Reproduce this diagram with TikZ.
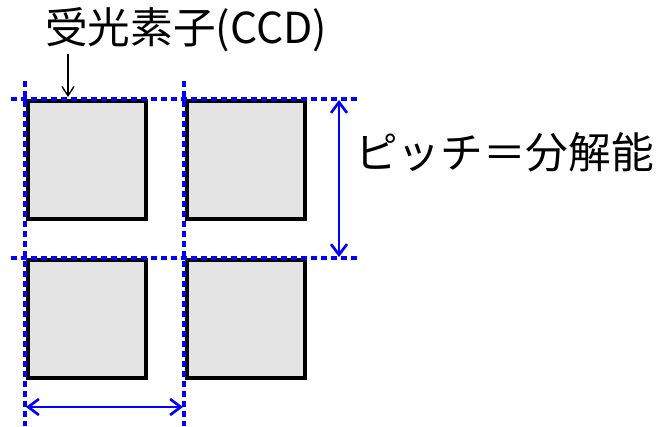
\documentclass[tikz,border=0pt]{standalone}
\usepackage{fontspec}
\newfontfamily\jpfont{Noto Sans CJK JP}
\usetikzlibrary{arrows.meta}
\definecolor{cellgray}{RGB}{228,228,228}
\definecolor{pureblue}{RGB}{0,0,255}
\tikzset{
  cell/.style={draw=black, fill=cellgray, line width=3pt, minimum width=118*0.75pt, minimum height=118*0.75pt, inner sep=0pt, outer sep=0pt},
  gridline/.style={draw=pureblue, line width=2.8pt, dash pattern=on 4.5pt off 3pt},
  pitcharrow/.style={draw=pureblue, line width=2pt, {Straight Barb[length=8pt,width=12pt,line width=2pt]}-{Straight Barb[length=8pt,width=12pt,line width=2pt]}},
  label/.style={font=\jpfont\fontsize{32pt}{35pt}\selectfont, inner sep=0pt}
}
\begin{document}
\begin{tikzpicture}[x=0.75pt,y=-0.75pt]
\useasboundingbox (0,0) rectangle (659,426);
\fill[white] (0,0) rectangle (659,426);
% cells
\node[cell] (c11) at (87,160) {};
\node[cell] (c12) at (246,160) {};
\node[cell] (c21) at (87,319) {};
\node[cell] (c22) at (246,319) {};
% grid line end points
\coordinate (h1a) at (11,99);  \coordinate (h1b) at (358,99);
\coordinate (h2a) at (11,258); \coordinate (h2b) at (358,258);
\coordinate (v1a) at (25,81);  \coordinate (v1b) at (25,426);
\coordinate (v2a) at (184,81); \coordinate (v2b) at (184,426);
\draw[gridline] (h1a) -- (h1b);
\draw[gridline] (h2a) -- (h2b);
\draw[gridline] (v1a) -- (v1b);
\draw[gridline] (v2a) -- (v2b);
% pitch arrows
\coordinate (pv1) at (339,100); \coordinate (pv2) at (339,257);
\coordinate (ph1) at (26,407);  \coordinate (ph2) at (183,407);
\draw[pitcharrow] (pv1) -- (pv2);
\draw[pitcharrow] (ph1) -- (ph2);
% labels
\node[label, anchor=west] (title) at (45,30) {受光素子(CCD)};
\node[label, anchor=west] (pitch) at (355,152) {ピッチ＝分解能};
\coordinate (tgt) at (68,97);
\draw[line width=1pt, -{Straight Barb[length=7pt,width=9pt]}] (68,54) -- (tgt);
\end{tikzpicture}
\end{document}
